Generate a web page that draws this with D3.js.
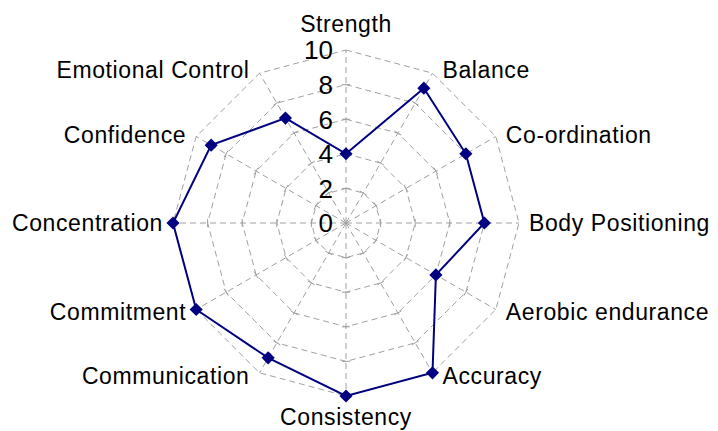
<!DOCTYPE html>
<html>
<head>
<meta charset="utf-8">
<script src="https://cdn.jsdelivr.net/npm/d3@7"></script>
<style>
  body { margin: 0; background: #fff; }
  svg { display: block; font-family: "Liberation Sans", Arial, sans-serif; }
</style>
</head>
<body>
<svg id="chart" width="718" height="431"></svg>
<script>
// skills, clockwise from the top
var categories = ["Strength", "Balance", "Co-ordination", "Body Positioning",
  "Aerobic endurance", "Accuracy", "Consistency", "Communication",
  "Commitment", "Concentration", "Confidence", "Emotional Control"];
var scores = [4, 9, 8, 8, 6, 10, 10, 9, 10, 10, 9, 7];
var ticks = [0, 2, 4, 6, 8, 10];

var svg = d3.select("#chart"),
  cx = 346, cy = 223,
  R = 173;

var r = d3.scaleLinear().domain([0, 10]).range([0, R]);
var angle = d3.scaleLinear().domain([0, categories.length]).range([0, 2 * Math.PI]);

function px(i, v) { return cx + r(v) * Math.sin(angle(i)); }
function py(i, v) { return cy - r(v) * Math.cos(angle(i)); }

var g = svg.append("g");

// rings
ticks.slice(1).forEach(function (t) {
  var pts = categories.map(function (c, i) { return [px(i, t), py(i, t)]; });
  g.append("path")
    .attr("d", d3.line()(pts) + "Z")
    .attr("fill", "none")
    .attr("stroke", "#a0a0a0")
    .attr("stroke-width", 1)
    .attr("stroke-dasharray", "6,4");
});

// spokes
g.selectAll("line.spoke")
  .data(categories)
  .enter()
  .append("line")
  .attr("class", "spoke")
  .attr("x1", cx).attr("y1", cy)
  .attr("x2", function (d, i) { return px(i, 10); })
  .attr("y2", function (d, i) { return py(i, 10); })
  .attr("stroke", "#a0a0a0")
  .attr("stroke-width", 1)
  .attr("stroke-dasharray", "6,4");

// small cross ticks on each spoke
categories.forEach(function (c, i) {
  var a = angle(i), ux = Math.cos(a), uy = Math.sin(a);
  ticks.slice(1, -1).forEach(function (t) {
    g.append("line")
      .attr("x1", px(i, t) - 4 * ux).attr("y1", py(i, t) - 4 * uy)
      .attr("x2", px(i, t) + 4 * ux).attr("y2", py(i, t) + 4 * uy)
      .attr("stroke", "#a0a0a0")
      .attr("stroke-width", 1);
  });
});

// radial tick labels
g.selectAll("text.tick")
  .data(ticks)
  .enter()
  .append("text")
  .attr("class", "tick")
  .attr("x", cx - 13)
  .attr("y", function (d) { return cy - r(d); })
  .attr("dy", "0.36em")
  .attr("text-anchor", "end")
  .attr("font-size", 26)
  .attr("fill", "#000")
  .text(function (d) { return d; });

// category labels
g.selectAll("text.cat")
  .data(categories)
  .enter()
  .append("text")
  .attr("class", "cat")
  .attr("x", function (d, i) {
    var s = Math.sin(angle(i));
    var off = Math.abs(s) < 0.01 ? 0 : (s > 0 ? 10 : -10);
    return px(i, 10) + off;
  })
  .attr("y", function (d, i) {
    var c = Math.cos(angle(i));
    if (c > 0.99) return py(i, 10) - 26;
    if (c < -0.99) return py(i, 10) + 21;
    return py(i, 10) - 3.5 * c;
  })
  .attr("dy", "0.36em")
  .attr("text-anchor", function (d, i) {
    var s = Math.sin(angle(i));
    return Math.abs(s) < 0.01 ? "middle" : (s > 0 ? "start" : "end");
  })
  .attr("font-size", 23)
  .attr("letter-spacing", 0.6)
  .attr("fill", "#000")
  .text(function (d) { return d; });

// series
var pts = scores.map(function (v, i) { return [px(i, v), py(i, v)]; });
g.append("path")
  .attr("d", d3.line()(pts) + "Z")
  .attr("fill", "none")
  .attr("stroke", "#000080")
  .attr("stroke-width", 2);

g.selectAll("path.marker")
  .data(scores)
  .enter()
  .append("path")
  .attr("class", "marker")
  .attr("transform", function (d, i) { return "translate(" + px(i, d) + "," + py(i, d) + ")"; })
  .attr("d", d3.symbol().type(d3.symbolDiamond2).size(110))
  .attr("fill", "#000080");
</script>
</body>
</html>
